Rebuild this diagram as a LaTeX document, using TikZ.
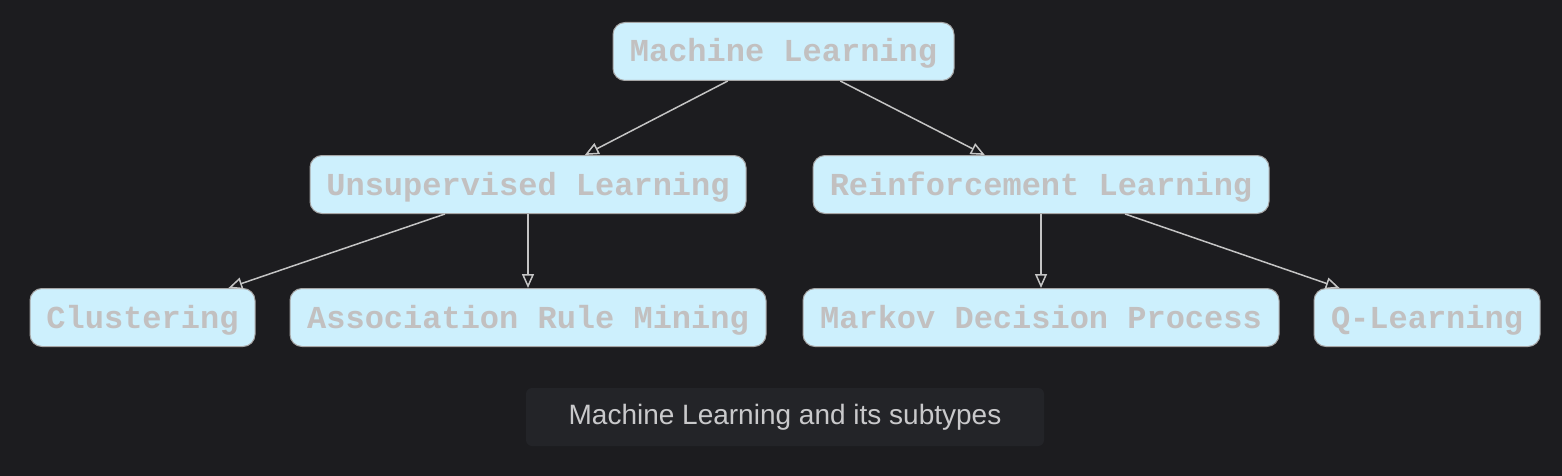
\documentclass[tikz,border=0pt]{standalone}
\usepackage{fontspec}
\setmainfont{Liberation Sans}
\newfontfamily\monob{Liberation Mono}
\usetikzlibrary{arrows.meta,calc}
\definecolor{bgc}{HTML}{1C1C1F}
\definecolor{nodefill}{HTML}{CDF0FD}
\definecolor{nodeborder}{HTML}{A6A6A6}
\definecolor{nodetext}{HTML}{C2C0C0}
\definecolor{edgec}{HTML}{C4C4C4}
\definecolor{capfill}{HTML}{232428}
\definecolor{captext}{HTML}{C9C9CB}
\tikzset{
  mlbox/.style={draw=nodeborder, fill=nodefill, line width=1pt, rounded corners=12pt,
    minimum height=58pt, inner sep=0pt, text=nodetext, text height=23pt, text depth=2pt,
    font=\monob\bfseries\fontsize{32}{36}\selectfont},
  edge/.style={draw=edgec, line width=1.5pt,
    -{Triangle[length=14pt,width=12pt,fill=bgc]}},
  capbox/.style={fill=capfill, rounded corners=6pt, minimum width=518pt, minimum height=58pt,
    inner sep=0pt, text=captext, font=\fontsize{28}{32}\selectfont}
}
\begin{document}
\begin{tikzpicture}[x=1pt,y=-1pt]
\fill[bgc] (0,0) rectangle (1562,476);
\useasboundingbox (0,0) rectangle (1562,476);
\node[mlbox, minimum width=341pt] (ml) at (783.5,51.5) {Machine Learning};
\node[mlbox, minimum width=436pt] (ul) at (528,184.5) {Unsupervised Learning};
\node[mlbox, minimum width=456pt] (rl) at (1041,184.5) {Reinforcement Learning};
\node[mlbox, minimum width=225pt] (cl) at (142.5,317.5) {Clustering};
\node[mlbox, minimum width=476pt] (arm) at (528,317.5) {Association Rule Mining};
\node[mlbox, minimum width=476pt] (mdp) at (1041,317.5) {Markov Decision Process};
\node[mlbox, minimum width=226pt] (ql) at (1427,317.5) {Q-Learning};
\node[capbox] (cap) at (785,417) {Machine Learning and its subtypes};
\draw[edge] ($(ml.south west)!0.337!(ml.south east)$) -- ($(ul.north west)!0.63!(ul.north east)$);
\draw[edge] ($(ml.south west)!0.666!(ml.south east)$) -- ($(rl.north west)!0.377!(rl.north east)$);
\draw[edge] ($(ul.south west)!0.31!(ul.south east)$) -- ($(cl.north west)!0.88!(cl.north east)$);
\draw[edge] (ul.south) -- (arm.north);
\draw[edge] (rl.south) -- (mdp.north);
\draw[edge] ($(rl.south west)!0.684!(rl.south east)$) -- ($(ql.north west)!0.115!(ql.north east)$);
\end{tikzpicture}
\end{document}
